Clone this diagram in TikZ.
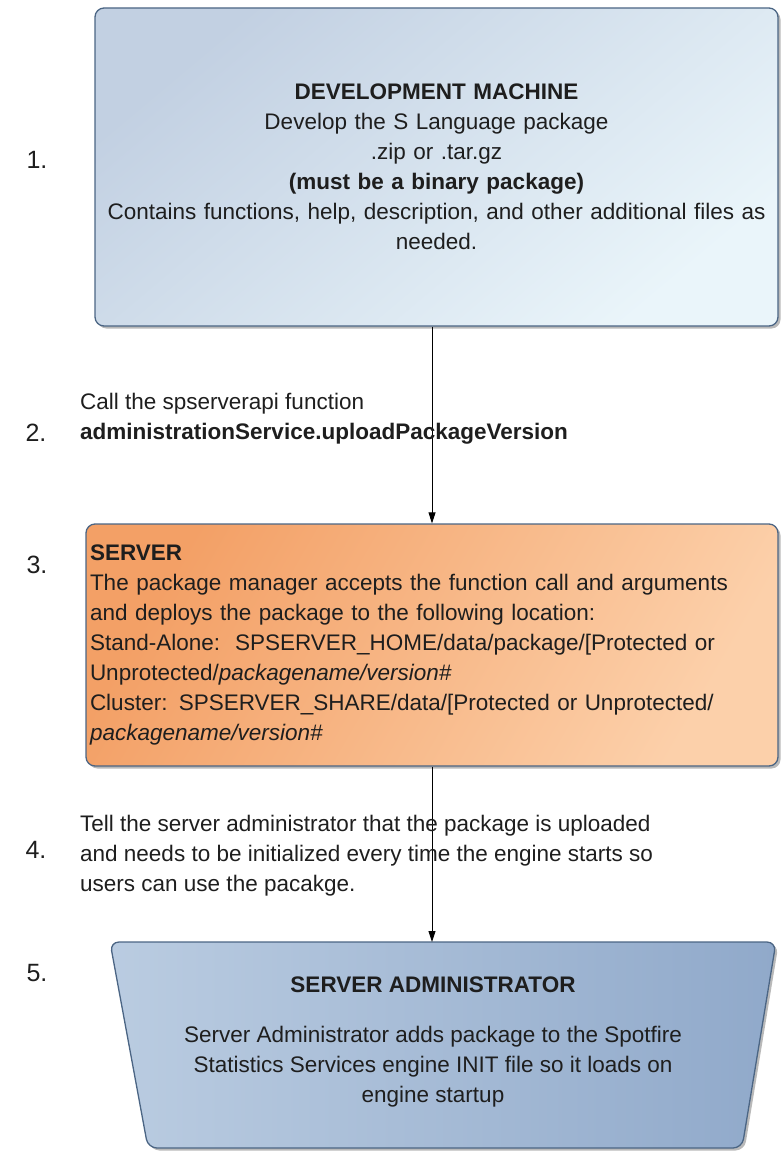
\documentclass[tikz,border=0pt]{standalone}
\usepackage{fontspec}
\setmainfont{Liberation Sans}
\usetikzlibrary{shadows,arrows.meta}

\definecolor{edgeblue}{HTML}{4B6584}
\definecolor{txt}{HTML}{1E1E1E}
\definecolor{devA}{HTML}{C2D0E2}
\definecolor{devB}{HTML}{EAF5FA}
\definecolor{srvA}{HTML}{F3A066}
\definecolor{srvB}{HTML}{FCD0AA}
\definecolor{admA}{HTML}{BACCE1}
\definecolor{admB}{HTML}{90A9CA}

\begin{document}
\begin{tikzpicture}[x=1pt,y=1pt,
  shade/.style={drop shadow={shadow xshift=2.5pt, shadow yshift=-2.5pt, fill=black!50, opacity=0.55}},
  box/.style={draw=edgeblue, line width=1.3pt, rounded corners=9pt, shade},
  body/.style={font=\fontsize{22.5}{30}\selectfont, text=txt},
  num/.style={font=\fontsize{25}{25}\selectfont, text=txt},
  arr/.style={-{Triangle[length=11pt,width=7pt]}, line width=0.9pt}]

\useasboundingbox (0,0) rectangle (780,-1156);

% development machine
\node[box, body, top color=devA, bottom color=devB, shading angle=40,
      minimum width=683, minimum height=318, text width=675, align=center,
      inner sep=4pt] (dev) at (436.5,-167)
  {\textbf{DEVELOPMENT MACHINE}\\
   Develop the S Language package\\
   .zip or .tar.gz\\
   \textbf{(must be a binary package)}\\
   Contains functions, help, description, and other additional files as\\
   needed.};

% server
\node[box, body, top color=srvA, bottom color=srvB, shading angle=60,
      minimum width=692, minimum height=242, text width=684, align=left,
      inner sep=4pt] (srv) at (432,-645)
  {\textbf{SERVER}\\
   The package manager accepts the function call and arguments\\
   and deploys the package to the following location:\\
   Stand-Alone:\ \ SPSERVER\_HOME/data/package/[Protected or\\
   Unprotected/\textit{packagename/version\#}\\
   Cluster: SPSERVER\_SHARE/data/[Protected or Unprotected/\\
   \textit{packagename/version\#}};

% server administrator: inverted trapezium drawn as a path
\path[draw=edgeblue, line width=1.3pt, rounded corners=9pt, shade,
      left color=admA, right color=admB]
  (110,-942) -- (776,-942) -- (742,-1148) -- (148,-1148) -- cycle;
\coordinate (admtop) at (443,-942);
\node[body, align=center] (adm) at (433,-1042)
  {\textbf{SERVER ADMINISTRATOR}\\[20pt]
   Server Administrator adds package to the Spotfire\\
   Statistics Services engine INIT file so it loads on\\
   engine startup};

% connectors
\draw[arr] (dev.south -| srv.north) -- (srv.north);
\draw[arr] (srv.south) -- (srv.south |- admtop);

% step numbers
\node[num] (n1) at (37,-160) {1.};
\node[num] (n2) at (36,-433) {2.};
\node[num] (n3) at (37,-565) {3.};
\node[num] (n4) at (36,-850) {4.};
\node[num] (n5) at (37,-973) {5.};

% step notes
\node[body, align=left, anchor=west, inner sep=0pt] (s2) at (80,-418.5)
  {Call the spserverapi function\\
   \textbf{administrationService.uploadPackageVersion}};
\node[body, align=left, anchor=west, inner sep=0pt] (s4) at (80,-856)
  {Tell the server administrator that the package is uploaded\\
   and needs to be initialized every time the engine starts so\\
   users can use the pacakge.};

\end{tikzpicture}
\end{document}
